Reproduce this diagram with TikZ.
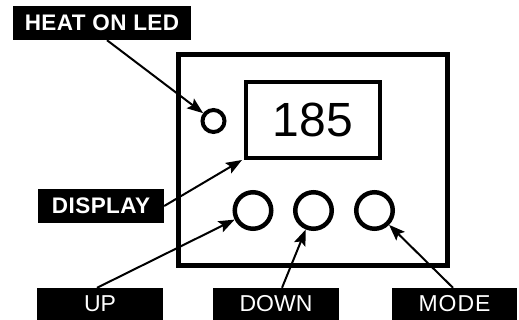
\documentclass[tikz,border=0pt]{standalone}
\usepackage{fontspec}
\setmainfont{Liberation Sans}
\usetikzlibrary{arrows.meta}
\begin{document}
\begin{tikzpicture}[x=1pt,y=-1pt,
  lab/.style={fill=black,text=white,inner sep=0pt,font=\fontsize{23}{23}\selectfont},
  boldlab/.style={lab,font=\fontsize{22.5}{22.5}\selectfont\bfseries\addfontfeature{LetterSpace=2}},
  btn/.style={circle,draw=black,line width=4.5pt,minimum size=36.5pt,inner sep=0pt},
  ptr/.style={line width=2pt,-{Stealth[length=16pt,width=12pt,inset=3pt]}}]
\useasboundingbox (0,0) rectangle (519,320);
% unit outline
\draw[line width=5pt] (178,55) rectangle (447.5,265.5);
\node[draw=black,line width=4pt,minimum width=134pt,minimum height=76pt,inner sep=0pt,
  font=\fontsize{48}{48}\selectfont] (disp) at (313,120) {185};
\node[circle,draw=black,line width=4pt,minimum size=22pt,inner sep=0pt] (led) at (213.5,121) {};
\node[btn] (up) at (253,210.5) {};
\node[btn] (down) at (313.5,210.5) {};
\node[btn] (mode) at (374.5,210.5) {};
% labels
\node[boldlab,minimum width=178pt,minimum height=34pt] (heatlab) at (102,23) {HEAT ON LED};
\node[boldlab,minimum width=126pt,minimum height=34pt] (displab) at (101,206) {DISPLAY};
\node[lab,minimum width=126pt,minimum height=32pt] (uplab) at (100,304) {UP};
\node[lab,minimum width=126pt,minimum height=32pt] (downlab) at (276,304) {DOWN};
\node[lab,minimum width=125pt,minimum height=32pt] (modelab) at (454.5,304) {\addfontfeature{LetterSpace=4}MODE};
% pointers
\draw[ptr] ([xshift=5pt]heatlab.south) -- (led);
\draw[ptr] (displab.east) -- ([xshift=-2pt]disp.south west);
\draw[ptr] ([xshift=-3pt]uplab.north) -- (up);
\draw[ptr] ([xshift=6pt]downlab.north) -- (down);
\draw[ptr] ([xshift=-1.5pt]modelab.north) -- (mode);
\end{tikzpicture}
\end{document}
